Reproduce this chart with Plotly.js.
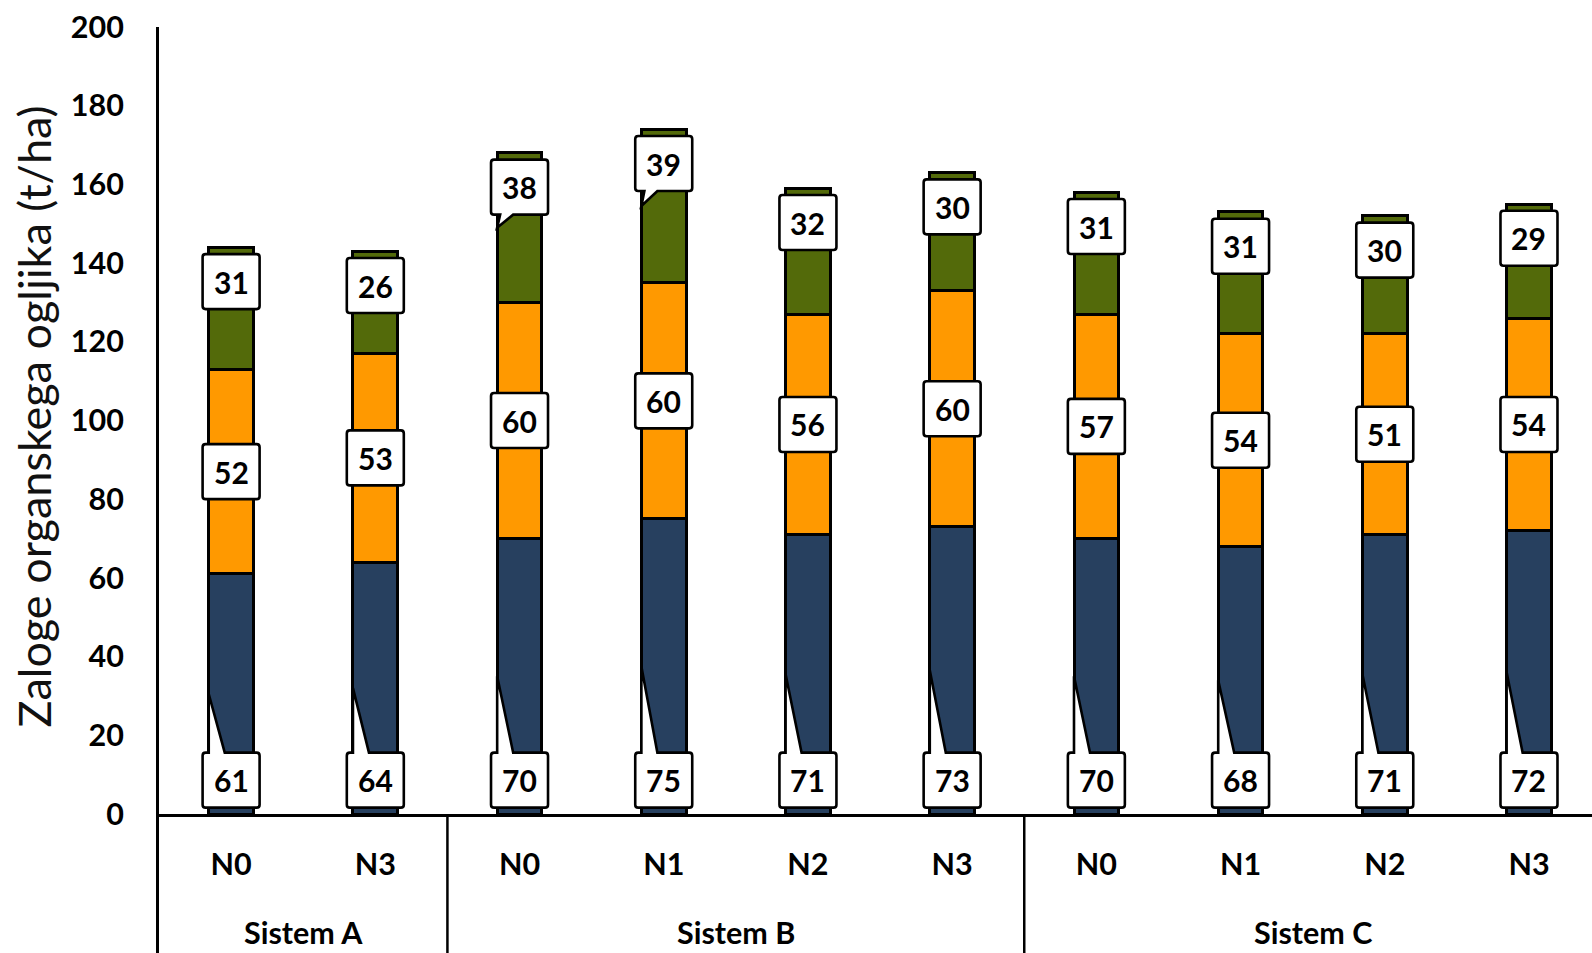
<!DOCTYPE html>
<html>
<head>
<meta charset="utf-8">
<script src="https://cdn.plot.ly/plotly-3.0.1.min.js"></script>
<style>html,body{margin:0;padding:0;background:#fff;}</style>
</head>
<body>
<div id="chart" style="width:1592px;height:953px;"></div>
<script>
// Treatments and farming systems (two-level category axis)
const treatments = ['N0', 'N3', 'N0', 'N1', 'N2', 'N3', 'N0', 'N1', 'N2', 'N3'];
const systems = ['Sistem A', 'Sistem A', 'Sistem B', 'Sistem B', 'Sistem B', 'Sistem B',
                 'Sistem C', 'Sistem C', 'Sistem C', 'Sistem C'];

// Organic carbon stock per layer (t/ha), stacked bottom to top
const layerBottom = [61, 64, 70, 75, 71, 73, 70, 68, 71, 72];
const layerMiddle = [52, 53, 60, 60, 56, 60, 57, 54, 51, 54];
const layerTop    = [31, 26, 38, 39, 32, 30, 31, 31, 30, 29];

const yTicks = [0, 20, 40, 60, 80, 100, 120, 140, 160, 180, 200];

// ---- layout geometry ----
const W = 1592, H = 953;
const ML = 159, MR = 0, MT = 27, MB = 139;
const plotW = W - ML - MR, plotH = H - MT - MB;
const xRange = [-0.5, 9.437];
const yRange = [0, 200];
const pxX = plotW / (xRange[1] - xRange[0]);
const pxY = plotH / (yRange[1] - yRange[0]);

const COLORS = ['#27405F', '#FF9900', '#536A0A'];
const BAR_W = 0.31;
const FONT = 'Lato, "Open Sans", sans-serif';
const AXIS_FONT = { family: FONT, size: 30.5, color: '#000', weight: 700 };

const idx = treatments.map((_, i) => i);

function barTrace(vals, color, name) {
  return {
    type: 'bar', x: idx, y: vals, name: name, width: BAR_W,
    marker: { color: color, line: { color: '#000', width: 3 } },
    hoverinfo: 'skip', showlegend: false
  };
}
const data = [
  barTrace(layerBottom, COLORS[0], 'spodnji sloj'),
  barTrace(layerMiddle, COLORS[1], 'srednji sloj'),
  barTrace(layerTop, COLORS[2], 'zgornji sloj')
];

// ---- callout labels (white box + pointer toward the segment) ----
const BOX_HW = 28.5 / pxX;     // half width in x units
const BOX_HH = 27.5 / pxY;     // half height in y units
const RX = 3 / pxX, RY = 3 / pxY;
const PTR_W = 16 / pxX;

function callout(xc, yc, pointer) {
  const L = xc - BOX_HW, R = xc + BOX_HW, T = yc + BOX_HH, B = yc - BOX_HH;
  const p = [];
  p.push(`M${L + RX},${T}`);
  if (pointer && pointer.side === 'top') {
    p.push(`L${pointer.x0},${T}`, `L${pointer.ax},${pointer.ay}`, `L${pointer.x1},${T}`);
  }
  p.push(`L${R - RX},${T}`, `Q${R},${T} ${R},${T - RY}`);
  p.push(`L${R},${B + RY}`, `Q${R},${B} ${R - RX},${B}`);
  if (pointer && pointer.side === 'bottom') {
    p.push(`L${pointer.x1},${B}`, `L${pointer.ax},${pointer.ay}`, `L${pointer.x0},${B}`);
  }
  p.push(`L${L + RX},${B}`, `Q${L},${B} ${L},${B + RY}`);
  p.push(`L${L},${T - RY}`, `Q${L},${T} ${L + RX},${T}`, 'Z');
  return {
    type: 'path', xref: 'x', yref: 'y', layer: 'above',
    path: p.join(' '),
    fillcolor: '#fff', line: { color: '#000', width: 2.6 }
  };
}

const shapes = [];
const annotations = [];
function labelText(x, y, v) {
  annotations.push({
    x: x, y: y, xref: 'x', yref: 'y', text: String(v), showarrow: false,
    xanchor: 'center', yanchor: 'middle',
    font: { family: FONT, size: 30, color: '#000', weight: 700 }
  });
}

idx.forEach(i => {
  const barLeft = i - BAR_W / 2;
  const total = layerBottom[i] + layerMiddle[i] + layerTop[i];

  // bottom layer: label sits near the baseline, pointer up to the segment
  const y1 = 8.6;
  shapes.push(callout(i, y1, {
    side: 'top', x0: barLeft, x1: barLeft + PTR_W,
    ax: barLeft, ay: layerBottom[i] / 2
  }));
  labelText(i, y1, layerBottom[i]);

  // middle layer: label centred on the segment
  const y2 = layerBottom[i] + layerMiddle[i] / 2;
  shapes.push(callout(i, y2, null));
  labelText(i, y2, layerMiddle[i]);

  // top layer: label near the bar top, pointer down when the segment centre is below the box
  const y3 = total - 8.7;
  const mid3 = layerBottom[i] + layerMiddle[i] + layerTop[i] / 2;
  const ptr = (mid3 < y3 - BOX_HH - 0.5) ? {
    side: 'bottom', x0: barLeft + 3 / pxX, x1: barLeft + 3 / pxX + 13 / pxX,
    ax: barLeft, ay: mid3
  } : null;
  shapes.push(callout(i, y3, ptr));
  labelText(i, y3, layerTop[i]);
});

// ---- system group labels and dividers below the axis ----
const toPaperX = v => (v - xRange[0]) / (xRange[1] - xRange[0]);
const bottomPaper = -MB / plotH;
shapes.push({
  type: 'line', xref: 'paper', yref: 'paper', x0: -1.5 / plotW, x1: -1.5 / plotW,
  y0: 0, y1: bottomPaper, line: { color: '#000', width: 3 }, layer: 'above'
});
const groups = [];
systems.forEach((s, i) => {
  const g = groups.length && groups[groups.length - 1].name === s ? groups[groups.length - 1] : null;
  if (g) g.last = i; else groups.push({ name: s, first: i, last: i });
});
groups.forEach((g, k) => {
  annotations.push({
    x: (g.first + g.last) / 2, y: -(932 - (MT + plotH)) / plotH,
    xref: 'x', yref: 'paper', text: g.name, showarrow: false,
    xanchor: 'center', yanchor: 'middle',
    font: AXIS_FONT
  });
  if (k < groups.length - 1) {
    const xp = toPaperX(g.last + 0.5);
    shapes.push({
      type: 'line', xref: 'paper', yref: 'paper', x0: xp, x1: xp,
      y0: 0, y1: bottomPaper, line: { color: '#000', width: 2.5 }, layer: 'above'
    });
  }
});

// y-axis title
annotations.push({
  xref: 'paper', yref: 'paper', x: (34 - ML) / plotW, y: 0.5 + 4 / plotH,
  text: 'Zaloge organskega ogljika (t/ha)', textangle: -90, showarrow: false,
  xanchor: 'center', yanchor: 'middle',
  font: { family: FONT, size: 45, color: '#111' }
});

const layout = {
  width: W, height: H,
  margin: { l: ML, r: MR, t: MT, b: MB, pad: 0 },
  paper_bgcolor: '#fff', plot_bgcolor: '#fff',
  barmode: 'stack',
  showlegend: false,
  xaxis: {
    type: 'linear', range: xRange, fixedrange: true,
    tickmode: 'array', tickvals: idx, ticktext: treatments,
    ticks: '', ticklabelstandoff: 21,
    showgrid: false, zeroline: false,
    showline: true, linecolor: '#000', linewidth: 3,
    tickfont: AXIS_FONT
  },
  yaxis: {
    range: yRange, fixedrange: true,
    tickmode: 'array', tickvals: yTicks,
    ticks: '', ticklabelstandoff: 26,
    showgrid: false, zeroline: false,
    showline: true, linecolor: '#000', linewidth: 3,
    tickfont: AXIS_FONT
  },
  shapes: shapes,
  annotations: annotations
};

Plotly.newPlot('chart', data, layout, { displayModeBar: false, staticPlot: true });
</script>
</body>
</html>
